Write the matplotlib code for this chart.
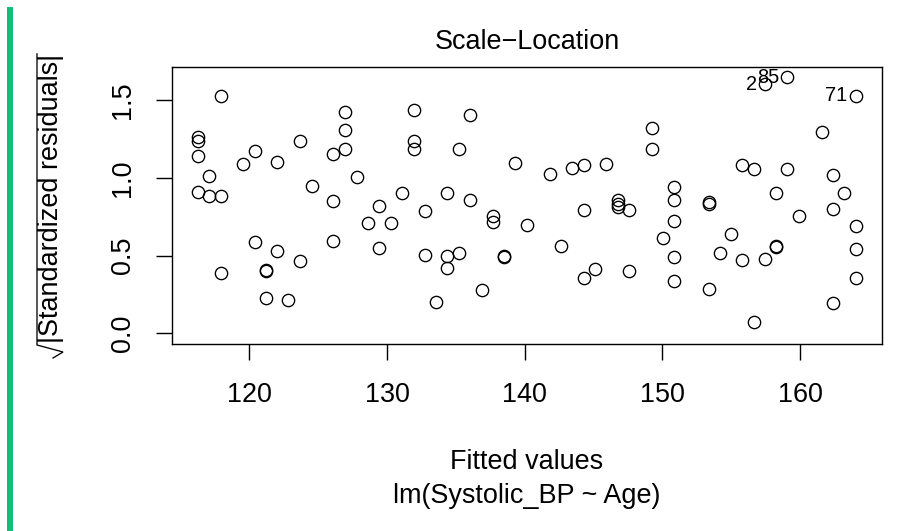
import matplotlib
matplotlib.use("Agg")
import matplotlib.pyplot as plt
from matplotlib.patches import Rectangle
from matplotlib.lines import Line2D
import numpy as np

plt.rcParams['font.family'] = ['Liberation Sans', 'DejaVu Sans']

# ---- data ----
fitted_values = [
    117.92, 116.29, 116.29, 116.29, 117.09, 116.29, 117.09, 117.92, 117.92, 119.56,
    120.41, 121.99, 123.69, 124.54, 126.11, 126.11, 126.11, 120.41, 121.99, 121.21,
    121.21, 123.69, 121.21, 122.84, 126.96, 126.96, 126.96,
    127.81, 131.93, 131.93, 131.93, 136.05, 135.20, 139.32, 131.08, 129.45, 128.63,
    130.28, 129.45, 132.76, 134.36, 136.05, 137.70, 137.70, 132.76, 134.36, 135.20,
    134.36, 138.47, 138.47, 136.87, 133.58,
    140.17, 141.82, 142.65, 143.45, 144.29, 144.29, 145.92, 145.12, 144.29, 146.77,
    146.77, 146.77, 147.56, 147.56, 149.24, 149.24, 150.07, 150.84, 150.84, 150.84,
    150.84, 150.84,
    153.38, 153.38, 153.38, 154.18, 155.01, 155.81, 155.81, 156.65, 156.65, 157.48,
    159.08, 164.05, 161.60, 159.08, 158.28, 159.93, 158.28, 158.28, 157.48, 162.43,
    163.20, 162.43, 164.05, 164.05, 164.05, 162.43,
]
sqrt_abs_std_resid = [
    1.525, 1.261, 1.237, 1.143, 1.012, 0.907, 0.885, 0.885, 0.388, 1.087,
    1.175, 1.100, 1.239, 0.948, 1.154, 0.853, 0.592, 0.586, 0.530, 0.410,
    0.400, 0.467, 0.225, 0.216, 1.422, 1.310, 1.184,
    1.006, 1.439, 1.237, 1.190, 1.405, 1.188, 1.098, 0.901, 0.821, 0.708,
    0.708, 0.551, 0.787, 0.901, 0.856, 0.757, 0.718, 0.504, 0.499, 0.519,
    0.418, 0.495, 0.490, 0.277, 0.199,
    0.697, 1.023, 0.562, 1.062, 1.085, 0.793, 1.089, 0.414, 0.354, 0.856,
    0.835, 0.813, 0.793, 0.401, 1.319, 1.190, 0.611, 0.939, 0.856, 0.721,
    0.491, 0.339,
    0.845, 0.835, 0.285, 0.519, 0.641, 0.472, 1.081, 1.055, 0.071, 1.604,
    1.649, 1.529, 1.295, 1.055, 0.901, 0.757, 0.562, 0.553, 0.478, 1.019,
    0.903, 0.798, 0.692, 0.543, 0.354, 0.197,
]
# labelled observations: index into the arrays above -> label text
label_index = [83, 84, 85]
label_text = ["2", "85", "71"]

x_ticks = [120, 130, 140, 150, 160]
y_ticks = [0.0, 0.5, 1.0, 1.5]
y_tick_labels = ["0.0", "0.5", "1.0", "1.5"]

title = "Scale\u2212Location"
xlab = "Fitted values"
sub = "lm(Systolic_BP ~ Age)"
ylab_body = "|Standardized residuals|"   # drawn under a square-root sign

# ---- figure ----
W, H, DPI = 908, 531, 100
fig = plt.figure(figsize=(W / DPI, H / DPI), dpi=DPI)
px = lambda v: v * 72.0 / DPI  # pixels -> points
fx = lambda v: v / W           # pixel x -> figure fraction
fy = lambda v: 1 - v / H       # pixel y (from top) -> figure fraction

left, right, top, bottom = 172, 882, 67, 343.5
ax = fig.add_axes([fx(left), fy(bottom), (right - left) / W, (bottom - top) / H])

FS = px(27)

x = np.asarray(fitted_values)
y = np.asarray(sqrt_abs_std_resid)
ax.plot(x, y, linestyle='none', marker='o', markersize=px(12.3),
        markerfacecolor='none', markeredgecolor='black', markeredgewidth=px(1.35))

# R-style limits (4% expansion, y from 0)
xr = x.max() - x.min()
ax.set_xlim(x.min() - 0.04 * xr, x.max() + 0.04 * xr)
ymax = y.max()
ax.set_ylim(-0.04 * ymax, ymax * 1.04)

for i, t in zip(label_index, label_text):
    ax.annotate(t, (x[i], y[i]), xytext=(-px(8), 0), textcoords='offset points',
                ha='right', va='center', fontsize=px(20), annotation_clip=False)

ax.set_xticks(x_ticks)
ax.set_xticklabels([str(v) for v in x_ticks])
ax.set_yticks(y_ticks)
ax.set_yticklabels(y_tick_labels, rotation=90, va='center')

for s in ax.spines.values():
    s.set_linewidth(px(1.4))
ax.tick_params(axis='both', direction='out', length=px(16), width=px(1.4),
               labelsize=FS, colors='black')
ax.tick_params(axis='x', pad=px(22))
ax.tick_params(axis='y', pad=px(20))

ax.set_title(title, fontsize=FS, pad=px(18))

cx = (left + right) / 2 / W
fig.text(cx, fy(469), xlab, ha='center', va='baseline', fontsize=FS)
fig.text(cx, fy(503), sub, ha='center', va='baseline', fontsize=FS)

# y label: body text rotated, with a radical sign and overline (R plotmath style)
body = fig.text(fx(57.5), fy(343), ylab_body, ha='left', va='baseline',
                rotation=90, rotation_mode='anchor', fontsize=FS)
fig.canvas.draw()
bb = body.get_window_extent(fig.canvas.get_renderer())
top_y_px = H - bb.y1  # end of text, in pixels from the top
rad_x = [53, 63, 37, 37]
rad_y = [358, 352, 345, top_y_px]
fig.add_artist(Line2D([fx(v) for v in rad_x], [fy(v) for v in rad_y],
                      transform=fig.transFigure, color='black',
                      linewidth=px(1.3), solid_joinstyle='miter'))

# green accent bar at the left edge
fig.add_artist(Rectangle((fx(7), 0), 5.5 / W, fy(7), transform=fig.transFigure,
                         facecolor='#15BD78', edgecolor='none'))

fig.savefig('out.png', dpi=DPI)
